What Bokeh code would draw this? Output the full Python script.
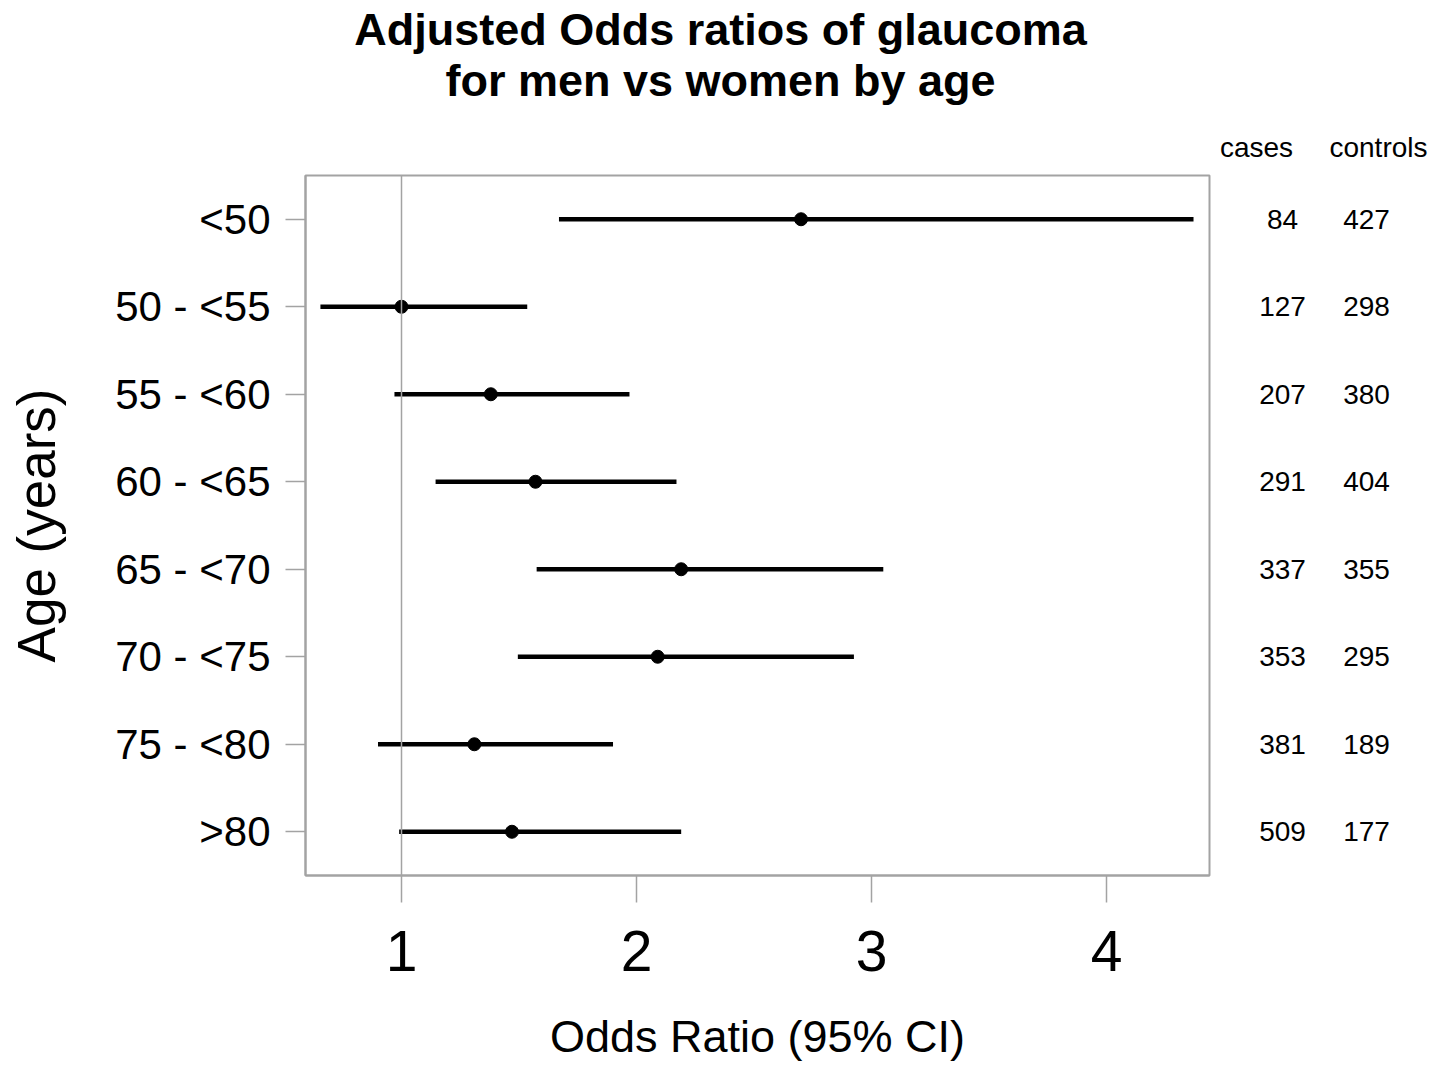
from bokeh.plotting import figure
from bokeh.models import ColumnDataSource, Range1d, FactorRange, Span, FixedTicker
from bokeh.layouts import column, row
from bokeh.core.properties import value
from bokeh.embed import file_html
from bokeh.resources import INLINE

# ---- data ----
ages = ["<50", "50 - <55", "55 - <60", "60 - <65", "65 - <70", "70 - <75", "75 - <80", ">80"]
odds_ratio = [2.70, 1.00, 1.38, 1.57, 2.19, 2.09, 1.31, 1.47]
ci_low = [1.67, 0.655, 0.97, 1.145, 1.575, 1.495, 0.90, 0.99]
ci_high = [4.37, 1.535, 1.97, 2.17, 3.05, 2.925, 1.90, 2.19]
cases = ["84", "127", "207", "291", "337", "353", "381", "509"]
controls = ["427", "298", "380", "404", "355", "295", "189", "177"]
x_ticks = [1, 2, 3, 4]
title_lines = ["Adjusted Odds ratios of glaucoma", "for men vs women by age"]
count_headers = ["cases", "controls"]

FONT = "Liberation Sans"
GRAY = "#a3a3a3"

src = ColumnDataSource(dict(age=ages, est=odds_ratio, lo=ci_low, hi=ci_high,
                            cases=cases, controls=controls))
yr = FactorRange(factors=list(reversed(ages)), range_padding=0)


def bare(fig):
    fig.xgrid.visible = False
    fig.ygrid.visible = False
    fig.outline_line_color = None
    fig.background_fill_color = "white"
    fig.border_fill_color = "white"
    return fig


# ---- top strip: title and column headers ----
top = bare(figure(width=1450, height=173, x_range=Range1d(0, 1450), y_range=Range1d(173, 0),
                  x_axis_location=None, y_axis_location=None,
                  output_backend="svg", toolbar_location=None,
                  min_border=0))
top.text(x=[720, 720], y=[29, 80], text=title_lines,
         text_font=value(FONT), text_font_size="45px", text_font_style="bold",
         text_align="center", text_baseline="middle", text_color="black")
top.text(x=[1256, 1378], y=[147, 147], text=count_headers,
         text_font=value(FONT), text_font_size="28px",
         text_align="center", text_baseline="middle", text_color="black")

# ---- main forest plot ----
p = figure(width=1211, height=895,
           x_range=Range1d(0.5915, 4.438), y_range=yr,
           output_backend="svg", toolbar_location=None,
           min_border_left=305, min_border_right=2,
           min_border_top=2, min_border_bottom=193)
p.background_fill_color = "white"
p.border_fill_color = "white"
p.outline_line_color = GRAY
p.outline_line_width = 2
p.xgrid.visible = False
p.ygrid.visible = False

p.xaxis.ticker = FixedTicker(ticks=x_ticks)
p.xaxis.minor_tick_line_color = None
p.xaxis.major_tick_in = 0
p.xaxis.major_tick_out = 27
p.xaxis.major_tick_line_color = GRAY
p.xaxis.major_tick_line_width = 1.5
p.xaxis.axis_line_color = GRAY
p.xaxis.axis_line_width = 2
p.xaxis.major_label_text_font = FONT
p.xaxis.major_label_text_font_size = "57px"
p.xaxis.major_label_text_color = "black"
p.xaxis.major_label_standoff = 28
p.xaxis.axis_label = "Odds Ratio (95% CI)"
p.xaxis.axis_label_text_font = FONT
p.xaxis.axis_label_text_font_size = "45px"
p.xaxis.axis_label_text_font_style = "normal"
p.xaxis.axis_label_text_color = "black"
p.xaxis.axis_label_standoff = 37

p.yaxis.major_tick_in = 0
p.yaxis.major_tick_out = 20
p.yaxis.major_tick_line_color = GRAY
p.yaxis.major_tick_line_width = 1.5
p.yaxis.axis_line_color = GRAY
p.yaxis.axis_line_width = 2
p.yaxis.major_label_text_font = FONT
p.yaxis.major_label_text_font_size = "42px"
p.yaxis.major_label_text_color = "black"
p.yaxis.major_label_standoff = 15
p.yaxis.axis_label = "Age (years)"
p.yaxis.axis_label_text_font = FONT
p.yaxis.axis_label_text_font_size = "53px"
p.yaxis.axis_label_text_font_style = "normal"
p.yaxis.axis_label_text_color = "black"
p.yaxis.axis_label_standoff = 46

p.add_layout(Span(location=1, dimension="height", line_color=GRAY, line_width=1.5))

p.segment(x0="lo", y0="age", x1="hi", y1="age", source=src,
          line_color="black", line_width=4.5)
p.scatter(x="est", y="age", source=src, size=13, color="black")

# ---- counts table ----
t = bare(figure(width=239, height=895, x_range=Range1d(0, 239), y_range=yr,
                x_axis_location=None, y_axis_location=None,
                output_backend="svg", toolbar_location=None,
                min_border_left=0, min_border_right=0,
                min_border_top=2, min_border_bottom=193))
t.text(x=71, y="age", text="cases", source=src,
       text_font=value(FONT), text_font_size="28px",
       text_align="center", text_baseline="middle", text_color="black")
t.text(x=155, y="age", text="controls", source=src,
       text_font=value(FONT), text_font_size="28px",
       text_align="center", text_baseline="middle", text_color="black")

layout = column(top, row(p, t, spacing=0), spacing=0)
open("out.html", "w").write(file_html(layout, INLINE))
